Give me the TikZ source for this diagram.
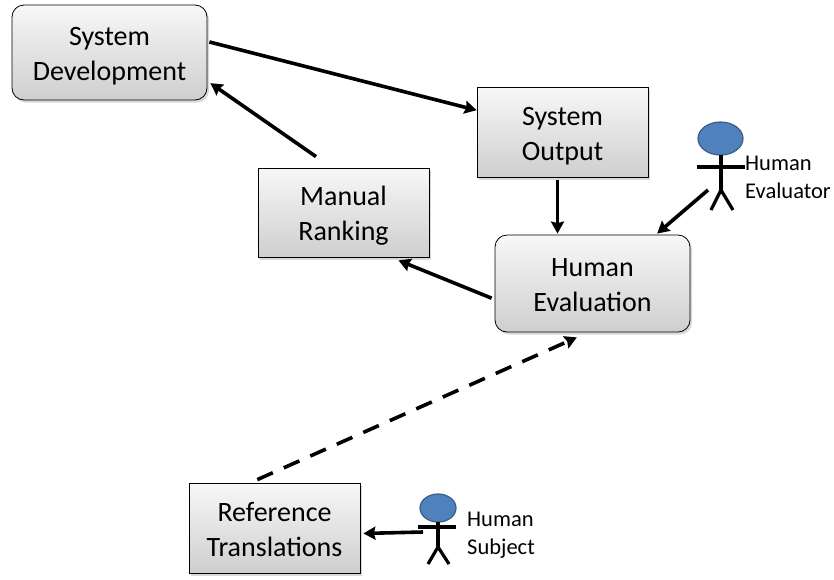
\documentclass[tikz,border=0pt]{standalone}
\usepackage{fontspec}
\setmainfont{Carlito}
\usetikzlibrary{arrows.meta,shadows,calc}
\definecolor{headfill}{HTML}{4F81BD}
\definecolor{headline}{HTML}{385D8A}
\newcommand\boxlines[1]{\raisebox{-3.5pt}[\height][\depth]{\begin{tabular}{@{}c@{}}#1\end{tabular}}}
\begin{document}
\begin{tikzpicture}[x=1pt,y=-1pt,
  box/.style={draw=black,line width=0.8pt,top color=gray!6,bottom color=gray!38,
    drop shadow={shadow xshift=2pt,shadow yshift=-2.5pt,fill=black!30},
    font=\fontsize{28}{35}\selectfont,inner sep=0pt},
  rbox/.style={box,rounded corners=12pt},
  arr/.style={line width=3.6pt,-{Stealth[length=12pt,width=13pt,inset=1.5pt]}},
  dasharr/.style={arr,dash pattern=on 17pt off 12pt},
  stick/.style={line width=3.2pt,black},
  head/.style={fill=headfill,draw=headline,line width=1.2pt},
  lbl/.style={align=left,anchor=west,inner sep=0pt,font=\fontsize{22.5}{28}\selectfont}
]
\useasboundingbox (0,0) rectangle (834,579);

\node[rbox,minimum width=195pt,minimum height=95pt] (sd) at (109.5,52.5) {\boxlines{System\\Development}};
\node[box,minimum width=171pt,minimum height=90pt] (so) at (562.5,132) {\boxlines{System\\Output}};
\node[box,minimum width=171pt,minimum height=89pt] (mr) at (343.5,212.5) {\boxlines{Manual\\Ranking}};
\node[rbox,minimum width=195pt,minimum height=97pt] (he) at (592.5,283.5) {\boxlines{Human\\Evaluation}};
\node[box,minimum width=171pt,minimum height=90pt] (rt) at (274.5,528) {\boxlines{Reference\\Translations}};

% Human Evaluator
\draw[head] (720.5,138.5) ellipse [x radius=22.5pt, y radius=16.5pt];
\draw[stick] (721,155) -- (721,192);
\draw[stick] (697,167) -- (745,167);
\draw[stick] (711,210) -- (721,190) -- (733,210);
\node[lbl] (evl) at (745,177) {Human\\Evaluator};
\coordinate (ev) at (708,190);

% Human Subject
\draw[head] (438,508) ellipse [x radius=18pt, y radius=14pt];
\draw[stick] (438,522) -- (438,550);
\draw[stick] (418,527) -- (456,527);
\draw[stick] (428,564) -- (438,547) -- (449,564);
\node[lbl] (sbl) at (467,535.5) {Human\\Subject};
\coordinate (sb) at (423,532);

% connectors
\draw[arr] ($(sd.north east)!0.39!(sd.south east)+(2,0)$) -- ($(so.north west)!0.26!(so.south west)$);
\draw[arr] ($(mr.north west)!0.34!(mr.north east)+(0,-11)$) -- ($(sd.north east)!0.82!(sd.south east)+(3,0)$);
\draw[arr] ($(so.south)+(-5,3)$) -- ($(he.north)+(-35,-1)$);
\draw[arr] (ev) -- ($(he.north west)!0.83!(he.north east)+(0,-1)$);
\draw[arr] ($(he.north west)!0.65!(he.south west)+(-3,0)$) -- ($(mr.south west)!0.82!(mr.south east)+(0,3)$);
\draw[dasharr] ($(rt.north west)!0.4!(rt.north east)+(0,-3)$) -- ($(he.south west)!0.42!(he.south east)+(0,5)$);
\draw[arr] (sb) -- ($(rt.north east)!0.56!(rt.south east)+(3,0)$);
\end{tikzpicture}
\end{document}
